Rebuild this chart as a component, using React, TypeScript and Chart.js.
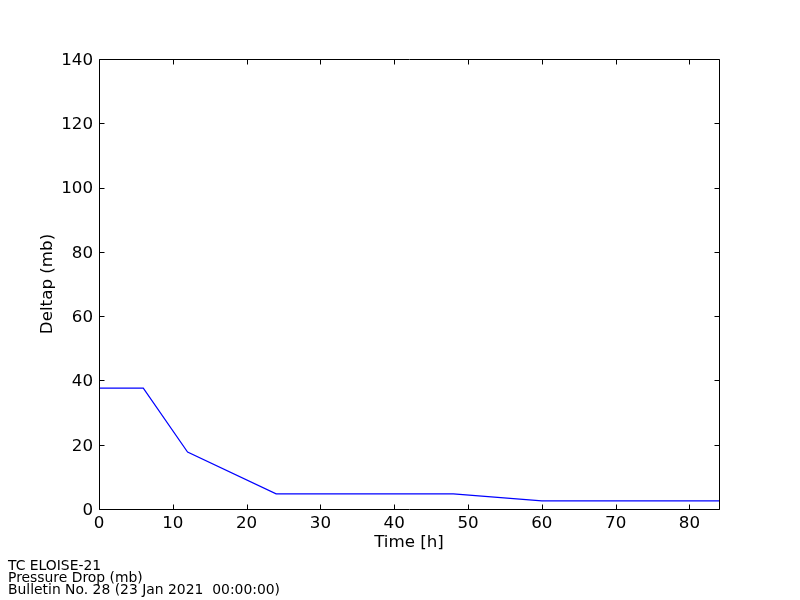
import React, { useEffect, useRef } from "react";
import { Chart, registerables } from "chart.js";

Chart.register(...registerables);

const hours = [0, 6, 12, 24, 48, 60, 84];
const deltap = [37.6, 37.6, 17.7, 4.7, 4.7, 2.5, 2.5];
const footerLines = [
  "TC ELOISE-21",
  "Pressure Drop (mb)",
  "Bulletin No. 28 (23 Jan 2021  00:00:00)",
];

const FONT = "'DejaVu Sans', sans-serif";

const frame = {
  id: "frame",
  afterDraw(chart: any) {
    const { ctx, chartArea: a, scales } = chart;
    ctx.save();
    ctx.strokeStyle = "#000";
    ctx.lineWidth = 1;
    ctx.beginPath();
    const L = Math.round(a.left) + 0.5;
    const R = Math.round(a.right) + 0.5;
    const T = Math.round(a.top) + 0.5;
    const B = Math.round(a.bottom) + 0.5;
    ctx.rect(L, T, R - L, B - T);
    const tl = 5;
    for (const t of scales.x.ticks) {
      const x = Math.round(scales.x.getPixelForValue(t.value)) + 0.5;
      ctx.moveTo(x, B);
      ctx.lineTo(x, B - tl);
      ctx.moveTo(x, T);
      ctx.lineTo(x, T + tl);
    }
    for (const t of scales.y.ticks) {
      const y = Math.round(scales.y.getPixelForValue(t.value)) + 0.5;
      ctx.moveTo(L, y);
      ctx.lineTo(L + tl, y);
      ctx.moveTo(R, y);
      ctx.lineTo(R - tl, y);
    }
    ctx.stroke();
    ctx.restore();
  },
};

export default function App() {
  const ref = useRef<HTMLCanvasElement | null>(null);
  useEffect(() => {
    if (!ref.current) return;
    const chart = new Chart(ref.current, {
      type: "line",
      data: {
        datasets: [
          {
            data: hours.map((h, i) => ({ x: h, y: deltap[i] })),
            borderColor: "#0000ff",
            borderWidth: 1.2,
            pointRadius: 0,
            tension: 0,
            fill: false,
          },
        ],
      },
      options: {
        animation: false,
        responsive: false,
        layout: { padding: { left: 0, right: 81, top: 59, bottom: 47 } },
        plugins: { legend: { display: false }, tooltip: { enabled: false } },
        scales: {
          x: {
            type: "linear",
            min: 0,
            max: 84,
            grid: { display: false, drawTicks: false },
            border: { display: false },
            ticks: {
              stepSize: 10,
              includeBounds: false,
              color: "#000",
              padding: 5,
              maxRotation: 0,
              font: { family: FONT, size: 16.7 },
            },
            title: {
              display: true,
              text: "Time [h]",
              color: "#000",
              font: { family: FONT, size: 16.7 },
              padding: { top: 0, bottom: 0 },
            },
            afterFit(scale: any) {
              scale.height = 44;
            },
          },
          y: {
            type: "linear",
            min: 0,
            max: 140,
            grid: { display: false, drawTicks: false },
            border: { display: false },
            ticks: {
              stepSize: 20,
              color: "#000",
              padding: 6,
              labelOffset: 1.5,
              font: { family: FONT, size: 16.7 },
            },
            title: {
              display: true,
              text: "Deltap (mb)",
              color: "#000",
              font: { family: FONT, size: 16.7 },
              padding: { top: 38, bottom: 0 },
            },
            afterFit(scale: any) {
              scale.width = 99;
            },
          },
        },
      },
      plugins: [frame],
    });
    return () => chart.destroy();
  }, []);
  return (
    <div style={{ position: "fixed", left: 0, top: 0, width: 800, height: 600, background: "#fff" }}>
      <canvas ref={ref} width={800} height={600} style={{ display: "block" }} />
      <div
        style={{
          position: "absolute",
          left: 8,
          top: 559,
          fontFamily: FONT,
          fontSize: 13.9,
          lineHeight: "12px",
          color: "#000",
          whiteSpace: "pre",
        }}
      >
        {footerLines.map((l, i) => (
          <div key={i}>{l}</div>
        ))}
      </div>
    </div>
  );
}
